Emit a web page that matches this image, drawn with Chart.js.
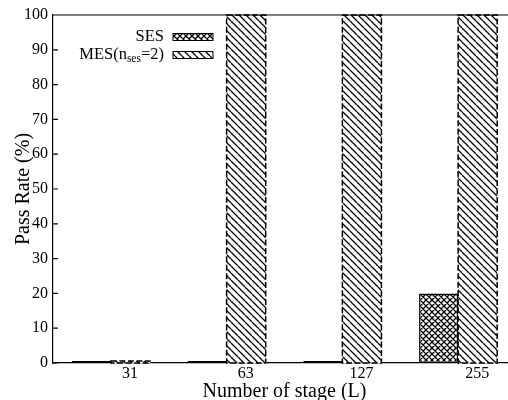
<!DOCTYPE html>
<html>
<head>
    <title>Pass Rate</title>
    <script src="https://cdn.jsdelivr.net/npm/chart.js"></script>
    <style>
        html, body { margin: 0; padding: 0; background: #fff; overflow: hidden; }
        #wrap { width: 520px; height: 406px; }
    </style>
</head>
<body>
    <div id="wrap"><canvas id="passChart" width="520" height="406"></canvas></div>

    <script>
        // datos
        var categories = ['31', '63', '127', '255'];
        var seriesNames = ['SES', 'MES(n_ses=2)'];
        var sesValues = [0.6, 0.6, 0.6, 20];
        var mesValues = [0.6, 100, 100, 100];
        var yTicks = [0, 10, 20, 30, 40, 50, 60, 70, 80, 90, 100];

        var serif = "'Liberation Serif', 'Times New Roman', serif";

        // patrones de relleno
        function makePattern(cross, size) {
            var c = document.createElement('canvas');
            c.width = size; c.height = size;
            var g = c.getContext('2d');
            g.fillStyle = '#fff';
            g.fillRect(0, 0, size, size);
            g.strokeStyle = '#000';
            g.lineWidth = 1.3;
            g.beginPath();
            for (var k = -size; k <= size; k += size) {
                g.moveTo(k, 0); g.lineTo(k + size, size);
                if (cross) { g.moveTo(k + size, 0); g.lineTo(k, size); }
            }
            g.stroke();
            return g.createPattern(c, 'repeat');
        }
        var ctx = document.getElementById('passChart').getContext('2d');
        var crossPat = makePattern(true, 6);
        var hatchPat = makePattern(false, 7);

        // borde discontinuo, ticks hacia adentro, marco y leyenda
        var extras = {
            id: 'extras',
            afterDatasetsDraw: function (chart) {
                var c = chart.ctx;
                var meta = chart.getDatasetMeta(1);
                c.save();
                c.strokeStyle = '#000';
                c.lineWidth = 1.5;
                c.setLineDash([6, 2.5]);
                meta.data.forEach(function (el) {
                    var p = el.getProps(['x', 'y', 'base', 'width'], true);
                    c.strokeRect(p.x - p.width / 2, p.y, p.width, p.base - p.y);
                });
                c.restore();
            },
            afterDraw: function (chart) {
                var c = chart.ctx;
                var a = chart.chartArea;
                var ys = chart.scales.y;
                c.save();
                c.strokeStyle = '#000';
                c.lineWidth = 1.2;
                c.beginPath();
                c.moveTo(a.left, a.top); c.lineTo(a.right, a.top);
                ys.ticks.forEach(function (t) {
                    var py = ys.getPixelForValue(t.value);
                    c.moveTo(a.left, py); c.lineTo(a.left + 5, py);
                });
                c.stroke();

                // leyenda
                var pats = [crossPat, hatchPat];
                var rowsY = [37, 55];
                var textRight = 164;
                seriesNames.forEach(function (name, i) {
                    var m = name.match(/^(.*?)_(\w+)(.*)$/);
                    var parts = m ? [[m[1], 16.5, 0], [m[2], 11.5, 4], [m[3], 16.5, 0]] : [[name, 16.5, 0]];
                    var total = 0;
                    parts.forEach(function (p) {
                        c.font = p[1] + 'px ' + serif;
                        total += c.measureText(p[0]).width;
                    });
                    var x = textRight - total;
                    c.fillStyle = '#000';
                    c.textBaseline = 'middle';
                    c.textAlign = 'left';
                    parts.forEach(function (p) {
                        c.font = p[1] + 'px ' + serif;
                        c.fillText(p[0], x, rowsY[i] + p[2]);
                        x += c.measureText(p[0]).width;
                    });
                    c.fillStyle = pats[i];
                    c.fillRect(173, rowsY[i] - 3.5, 40, 7);
                    c.lineWidth = 1;
                    c.strokeRect(173, rowsY[i] - 3.5, 40, 7);
                });
                c.restore();
            }
        };

        var passChart = new Chart(ctx, {
            type: 'bar',
            data: {
                labels: categories,
                datasets: [{
                    label: seriesNames[0],
                    data: sesValues,
                    backgroundColor: crossPat,
                    borderColor: '#000',
                    borderWidth: 1.5,
                    borderSkipped: false
                }, {
                    label: seriesNames[1],
                    data: mesValues,
                    backgroundColor: hatchPat,
                    borderWidth: 0
                }]
            },
            options: {
                responsive: false,
                animation: false,
                layout: { padding: { top: 15, right: 4, left: 0, bottom: 0 } },
                plugins: {
                    legend: { display: false },
                    tooltip: { enabled: false }
                },
                datasets: {
                    bar: { categoryPercentage: 0.675, barPercentage: 1.0 }
                },
                scales: {
                    x: {
                        grid: { display: false, drawTicks: false },
                        border: { display: true, color: '#000', width: 1.2 },
                        ticks: {
                            color: '#000',
                            font: { family: serif, size: 16 },
                            padding: 1,
                            labelOffset: 19,
                            maxRotation: 0
                        },
                        title: {
                            display: true,
                            text: 'Number of stage (L)',
                            color: '#000',
                            font: { family: serif, size: 20 },
                            padding: { top: 0, bottom: 2 }
                        },
                        afterFit: function (s) { s.height = 43; }
                    },
                    y: {
                        min: 0,
                        max: 100,
                        afterBuildTicks: function (s) {
                            s.ticks = yTicks.map(function (v) { return { value: v }; });
                        },
                        grid: { display: false, drawTicks: false },
                        border: { display: true, color: '#000', width: 1.2 },
                        ticks: {
                            color: '#000',
                            font: { family: serif, size: 16 },
                            padding: 5
                        },
                        title: {
                            display: true,
                            text: 'Pass Rate (%)',
                            color: '#000',
                            font: { family: serif, size: 20 },
                            padding: { top: 12, bottom: 0 }
                        },
                        afterFit: function (s) { s.width = 53; }
                    }
                }
            },
            plugins: [extras]
        });
    </script>
</body>
</html>
